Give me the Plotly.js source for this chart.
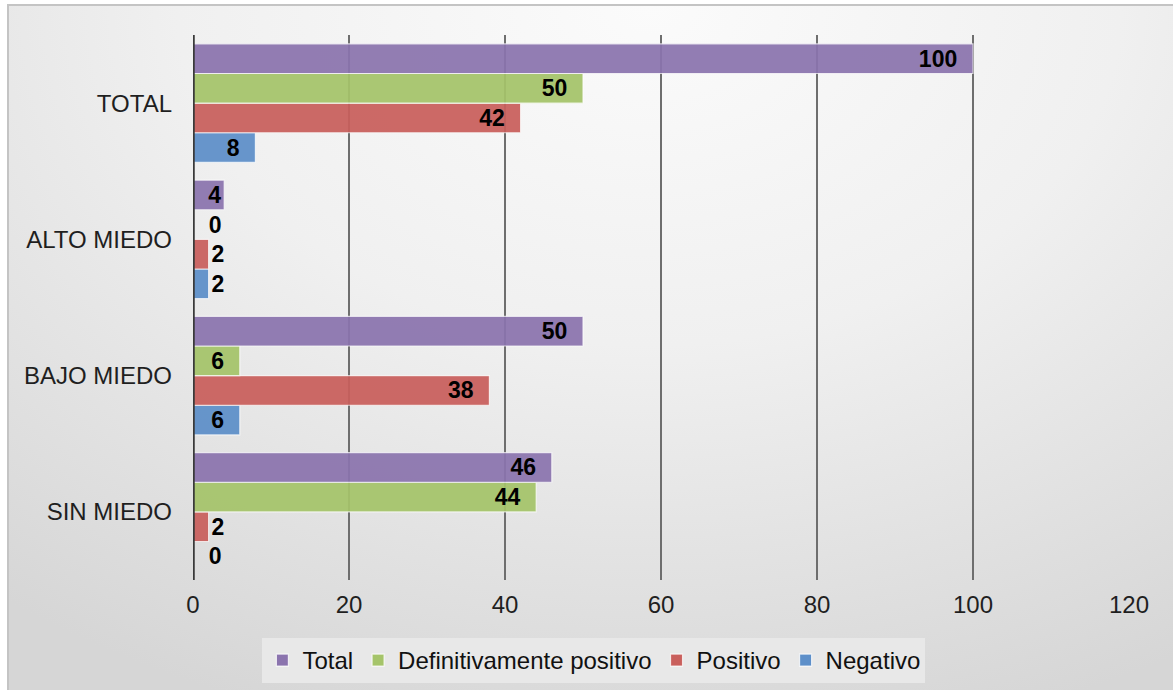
<!DOCTYPE html>
<html>
<head>
<meta charset="utf-8">
<script src="https://cdn.plot.ly/plotly-3.0.1.min.js"></script>
<style>
  html, body { margin: 0; padding: 0; width: 1176px; height: 693px; overflow: hidden; background: #ffffff; }
  #frame { position: absolute; left: 7px; top: 4px; width: 1166px; height: 686px; box-sizing: border-box;
           border-left: 2px solid #c4c4c4; border-top: 2px solid #c4c4c4;
           background: radial-gradient(ellipse 90% 110% at 55% 0%, #fbfbfb 0%, #f0f0f0 45%, #d6d6d6 100%); }
  #chart { position: absolute; left: 0; top: 0; width: 1176px; height: 693px; }
</style>
</head>
<body>
<div id="frame"></div>
<div id="chart"></div>
<script>
const categories = ["SIN MIEDO", "BAJO MIEDO", "ALTO MIEDO", "TOTAL"];
const seriesNames = ["Total", "Definitivamente positivo", "Positivo", "Negativo"];
const totalVals = [46, 50, 4, 100];
const defPosVals = [44, 6, 0, 50];
const positivoVals = [2, 38, 2, 42];
const negativoVals = [0, 6, 2, 8];
const xTicks = [0, 20, 40, 60, 80, 100, 120];

const colors = {
  "Total": "#8b74ae",
  "Definitivamente positivo": "#a5c46a",
  "Positivo": "#c95f5c",
  "Negativo": "#5d8fc9"
};
const valuesBySeries = {
  "Total": totalVals,
  "Definitivamente positivo": defPosVals,
  "Positivo": positivoVals,
  "Negativo": negativoVals
};

const NB = "\u00a0";
function labelText(v) {
  if (v === 0) return NB + NB + "0";
  if (v >= 6) return String(v) + NB + NB;
  return String(v);
}
const labelFont = { family: "Liberation Sans, Arial, sans-serif", size: 23, color: "#000000", weight: "bold" };

// Plotly stacks grouped horizontal bars bottom-up, so add traces in reverse
const order = seriesNames.slice().reverse();
const traces = order.map(name => {
  const vals = valuesBySeries[name];
  return {
    type: "bar",
    orientation: "h",
    name: name,
    y: categories,
    x: vals,
    text: vals.map(labelText),
    textposition: vals.map(v => v >= 4 ? "inside" : "outside"),
    insidetextanchor: "end",
    textangle: 0,
    constraintext: "none",
    cliponaxis: false,
    textfont: labelFont,
    insidetextfont: labelFont,
    outsidetextfont: labelFont,
    marker: { color: colors[name], opacity: 0.93, line: { color: "rgba(255,255,255,0.75)", width: 1.2 } },
    hoverinfo: "x+name"
  };
});

const layout = {
  width: 1176,
  height: 693,
  paper_bgcolor: "rgba(0,0,0,0)",
  plot_bgcolor: "rgba(0,0,0,0)",
  margin: { l: 193, r: 47, t: 35, b: 113, pad: 0 },
  barmode: "group",
  bargap: 0.13,
  bargroupgap: 0,
  font: { family: "Liberation Sans, Arial, sans-serif", color: "#1a1a1a" },
  xaxis: {
    range: [0, 120],
    tickvals: xTicks,
    ticktext: xTicks.map(String),
    showgrid: true,
    gridcolor: "#6e6e6e",
    gridwidth: 1.5,
    zeroline: false,
    showline: false,
    ticks: "",
    tickfont: { size: 24, color: "#1f1f1f" },
    ticklabelstandoff: 8,
    fixedrange: true
  },
  yaxis: {
    type: "category",
    categoryorder: "array",
    categoryarray: categories,
    showgrid: false,
    zeroline: false,
    showline: false,
    ticks: "",
    ticklabelstandoff: 20,
    tickfont: { size: 24, color: "#1f1f1f" },
    fixedrange: true
  },
  shapes: [{
    type: "line", xref: "x", yref: "paper",
    x0: 0, x1: 0, y0: 0, y1: 1,
    line: { color: "#3a3a3a", width: 3.5 }
  }],
  showlegend: true,
  legend: {
    orientation: "h",
    traceorder: "reversed",
    xref: "container", yref: "container",
    x: 0.505, xanchor: "center",
    y: 0.047, yanchor: "middle",
    bgcolor: "#e8e8e8",
    borderwidth: 0,
    font: { size: 24, color: "#111111" },
    itemwidth: 30,
    tracegroupgap: 0
  }
};

Plotly.newPlot("chart", traces, layout, { displayModeBar: false, staticPlot: true });
</script>
</body>
</html>
